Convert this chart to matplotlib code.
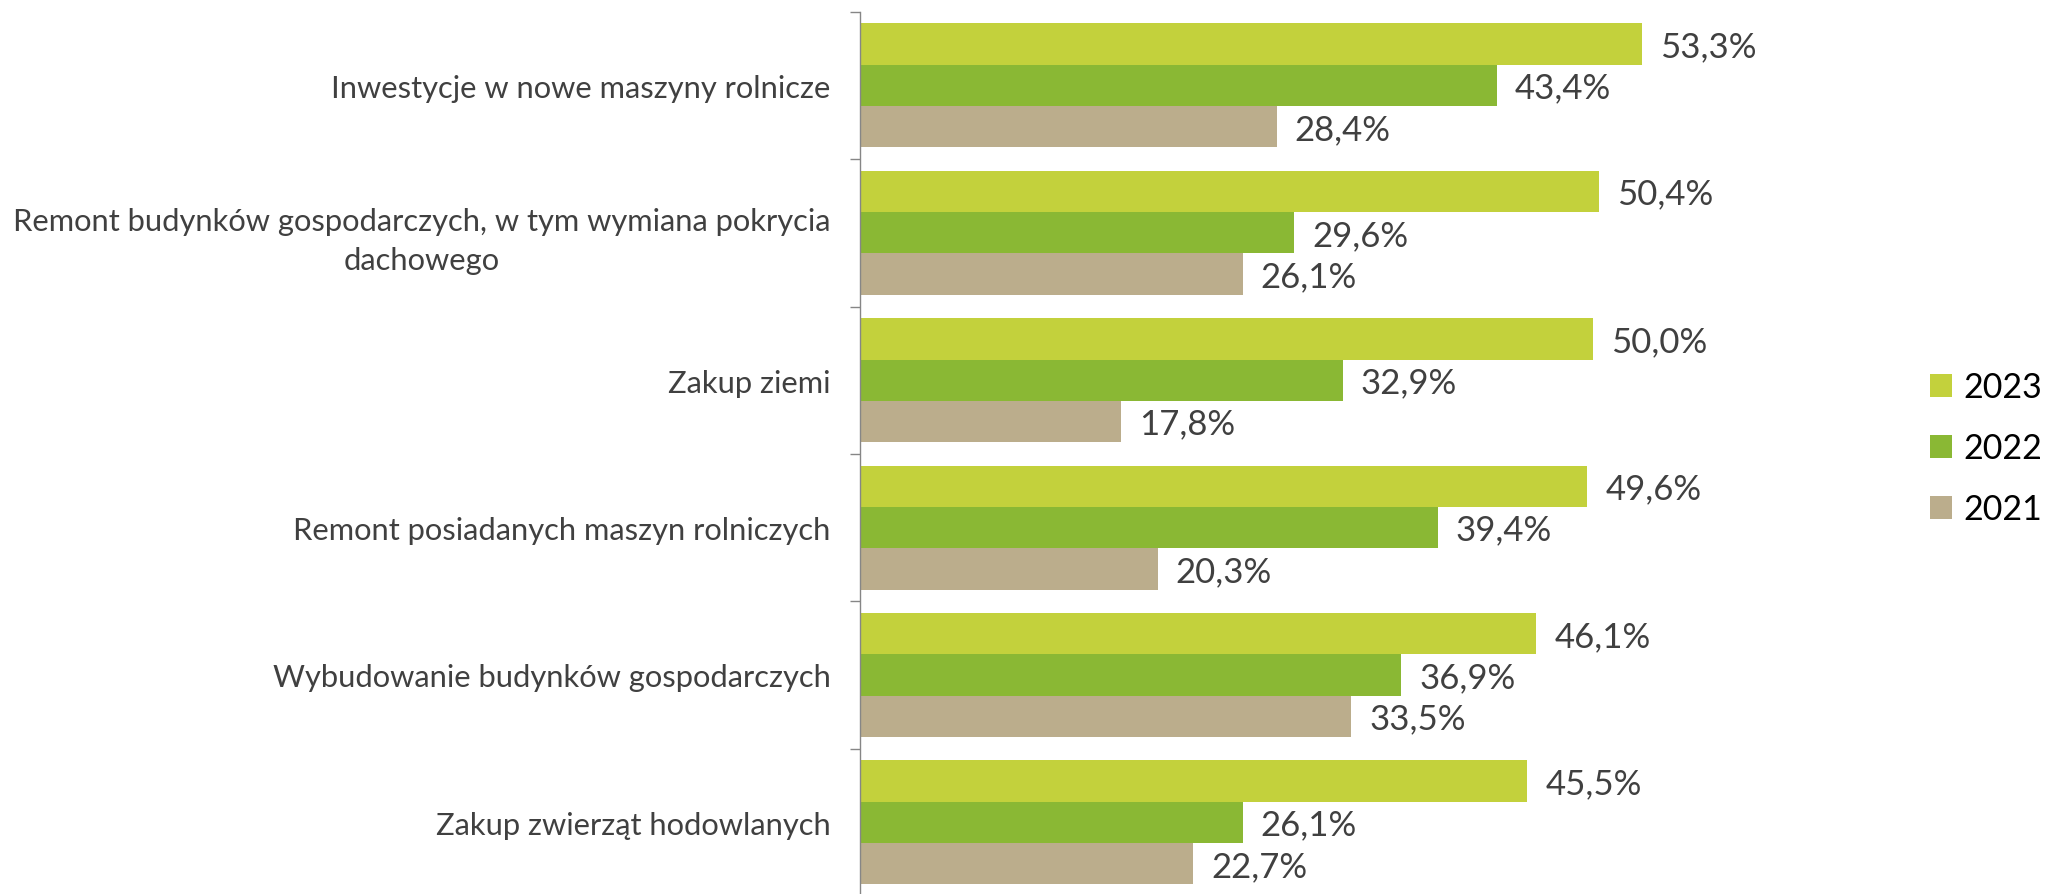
import matplotlib
matplotlib.use("Agg")
import matplotlib.pyplot as plt
from matplotlib.patches import Patch
import numpy as np

categories = [
    "Inwestycje w nowe maszyny rolnicze",
    "Remont budynków gospodarczych, w tym wymiana pokrycia\ndachowego",
    "Zakup ziemi",
    "Remont posiadanych maszyn rolniczych",
    "Wybudowanie budynków gospodarczych",
    "Zakup zwierząt hodowlanych",
]
years = ["2023", "2022", "2021"]
v2023 = [53.3, 50.4, 50.0, 49.6, 46.1, 45.5]
v2022 = [43.4, 29.6, 32.9, 39.4, 36.9, 26.1]
v2021 = [28.4, 26.1, 17.8, 20.3, 33.5, 22.7]
series = [v2023, v2022, v2021]
colors = ["#C3D13C", "#8AB834", "#BBAD8C"]

FONT = "Lato"
plt.rcParams["font.family"] = [FONT, "DejaVu Sans"]

W, H = 2046, 895
fig = plt.figure(figsize=(W / 100, H / 100), dpi=100)
ax_left = 860 / W
ax_top_px = 12.7
ax_bot_px = 12.7 + 6 * 147.4
ax_width = 880 / W  # 60 %
ax = fig.add_axes([ax_left, (H - ax_bot_px) / H, ax_width, (ax_bot_px - ax_top_px) / H])

n = len(categories)
y = np.arange(n)
bh = 0.28
offsets = [-bh, 0.0, bh]
for vals, off, col, yr in zip(series, offsets, colors, years):
    bars = ax.barh(y + off, vals, height=bh, color=col, label=yr, edgecolor="none")
    for b, v in zip(bars, vals):
        ax.annotate(f"{v:.1f}%".replace(".", ","),
                    xy=(b.get_width(), b.get_y() + b.get_height() / 2),
                    xytext=(13, -1.5), textcoords="offset points",
                    ha="left", va="center", fontsize=25, color="#404040",
                    annotation_clip=False)

ax.set_xlim(0, 60)
ax.set_ylim(n - 0.5, -0.5)
ax.set_yticks(y)
ax.set_yticklabels(categories, fontsize=22.2, color="#404040",
                   multialignment="center", linespacing=1.45)
ax.tick_params(axis="y", which="major", length=0, pad=21)
ax.set_yticks(np.arange(-0.5, n, 1.0), minor=True)
ax.tick_params(axis="y", which="minor", length=7.2, color="#868686", width=1)
ax.set_xticks([])
for s in ["top", "right", "bottom"]:
    ax.spines[s].set_visible(False)
ax.spines["left"].set_color("#868686")
ax.spines["left"].set_linewidth(1)

handles = [Patch(facecolor=c, edgecolor="none", label=yr) for c, yr in zip(colors, years)]
fig.legend(handles=handles, loc="center left", bbox_to_anchor=(1930 / W, 0.498),
           frameon=False, fontsize=24.5, handlelength=0.65, handleheight=0.65,
           handletextpad=0.32, borderpad=0, borderaxespad=0, labelspacing=0.85,
           labelcolor="black")

fig.savefig("out.png", dpi=100)
